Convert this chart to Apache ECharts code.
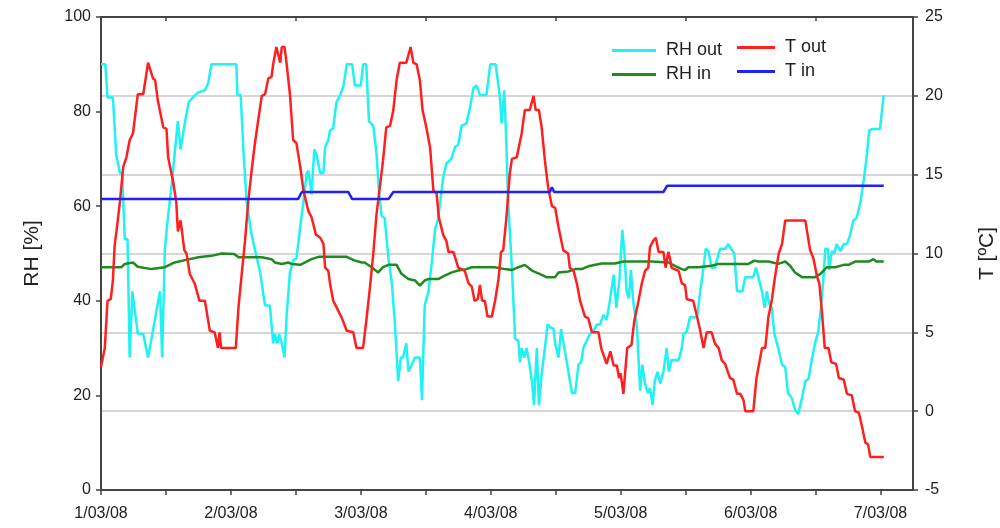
<!DOCTYPE html>
<html>
<head>
<meta charset="utf-8">
<script src="https://cdn.jsdelivr.net/npm/echarts@6/dist/echarts.min.js"></script>
<style>
  html, body { margin: 0; background: #fff; }
  #rh-t-chart { width: 1000px; height: 528px; }
</style>
</head>
<body>
<div id="rh-t-chart"></div>
<script>
// time in hours from 1/03/08 00:00
const dayLabels = ["1/03/08", "2/03/08", "3/03/08", "4/03/08", "5/03/08", "6/03/08", "7/03/08"];
const tickHours = [0, 12, 24, 36, 48, 60, 72, 84, 96, 108, 120, 132, 144];
const labelHours = [0, 24, 48, 72, 96, 120, 144];
const topTickHours = [12, 36, 60, 84, 108, 132];

const rhOut = [
  [0, 90], [0.8, 90], [1.2, 83], [2.2, 83], [2.8, 71], [3.5, 67], [3.9, 67], [4.4, 53], [4.9, 53],
  [5.3, 28], [5.8, 42], [6.8, 33], [7.8, 33], [8.7, 28], [10.9, 42], [11.3, 28], [11.8, 51],
  [12.4, 58], [13.0, 64], [13.6, 71], [14.2, 78], [14.7, 72], [15.4, 77], [16.2, 82], [17.0, 83],
  [17.9, 84], [19.2, 84.5], [19.8, 86], [20.4, 90],
  [25.0, 90], [25.2, 83.5], [25.8, 83.5], [26.3, 72], [26.9, 61], [27.8, 54], [28.4, 51], [29.4, 46],
  [30.3, 39], [31.2, 39], [31.8, 31], [32.1, 33], [32.6, 31], [32.9, 33], [33.4, 31], [33.9, 28],
  [34.3, 37], [34.9, 46], [35.5, 48.5], [36.1, 49], [36.8, 55.5], [37.4, 61], [38.0, 67], [38.3, 67.5],
  [38.9, 62.5], [39.4, 72], [39.8, 71], [40.5, 67], [41.1, 67], [41.4, 72.5], [42.0, 74], [42.3, 76],
  [42.9, 76.5], [43.5, 82], [44.2, 83.5], [44.8, 85.5], [45.4, 90], [46.4, 90], [46.9, 85.5], [48.0, 85.5],
  [48.4, 90], [49.0, 90], [49.5, 78], [50.3, 77], [50.9, 71], [51.3, 64], [51.8, 58], [52.4, 57.5],
  [53.1, 49], [53.7, 44], [54.3, 35], [54.9, 23], [55.4, 28], [55.8, 28], [56.4, 31], [56.8, 25],
  [57.4, 26.5], [58.0, 28], [58.9, 28], [59.3, 19], [59.8, 39], [60.5, 42], [61.1, 48], [61.7, 55],
  [62.3, 57.5], [63.2, 66], [63.8, 69], [64.7, 70], [65.4, 72.5], [66.0, 73], [66.6, 77], [67.5, 77.5],
  [68.2, 81], [68.8, 85], [69.4, 85.5], [70.0, 83.5], [71.2, 83.5], [71.9, 90],
  [72.9, 90], [73.7, 83], [74.0, 77.5], [74.5, 84.5], [74.9, 72.5], [75.2, 61], [75.9, 47], [76.5, 32],
  [77.1, 31.5], [77.4, 27], [77.7, 30], [78.2, 28], [78.6, 30], [79.1, 27], [79.6, 23], [80.0, 18],
  [80.5, 30], [80.9, 18], [81.4, 24.5], [82.0, 30], [82.5, 35], [82.9, 34.5], [83.6, 34], [83.9, 31],
  [84.5, 28], [85.0, 34], [85.6, 30], [86.2, 26], [87.0, 20.5], [87.6, 20.5], [88.2, 26.5], [88.7, 27],
  [89.1, 30], [89.7, 31.5], [90.3, 33], [90.9, 33.5], [91.6, 35], [92.2, 35], [92.8, 37], [93.4, 36],
  [94.0, 40], [94.7, 45.5], [95.2, 38.5], [95.8, 45],
  [96.3, 55], [96.7, 50], [97.1, 42], [97.5, 40.5], [97.9, 46.5], [98.3, 40], [99.0, 34.5], [99.6, 21],
  [100.0, 26.5], [100.5, 22.5], [101.0, 20.5], [101.4, 21.5], [101.9, 18], [102.3, 23], [102.8, 25],
  [103.3, 22.5], [103.9, 25], [104.5, 30], [104.9, 25], [105.4, 27.5], [106.7, 27.5], [107.3, 30],
  [107.6, 33], [108.2, 33.5], [108.8, 36.5], [110.1, 36.5], [110.7, 42], [111.3, 47], [111.7, 51],
  [112.2, 50.5], [112.8, 47], [113.4, 47], [114.1, 50], [114.4, 51], [115.3, 51], [115.9, 52], [116.4, 51],
  [117.0, 50], [117.5, 42], [118.5, 42], [119.0, 45], [120.5, 45],
  [121.0, 47], [122.1, 42], [122.6, 38.5], [123.0, 42], [123.4, 39.5], [123.9, 38.5], [124.4, 33],
  [125.1, 30], [125.8, 26.5], [126.4, 26], [126.9, 20.5], [127.6, 19.5], [128.2, 17], [128.8, 16],
  [129.5, 19.5], [130.1, 23], [130.7, 23.5], [131.3, 27.5], [131.9, 31], [132.5, 33.5], [133.0, 38.5],
  [133.5, 45.5], [133.8, 51], [134.3, 51], [134.5, 46.5], [135.0, 50.5], [135.5, 50], [135.9, 52],
  [136.6, 50.5], [137.2, 52], [137.8, 52], [138.4, 54], [139.0, 57], [139.6, 57.5], [140.3, 61],
  [140.9, 65.5], [141.5, 71], [141.9, 76], [142.4, 76.3], [143.9, 76.3], [144.2, 79.5], [144.6, 83.5]
];

const tOut = [
  [0, 2.8], [0.7, 4], [1.2, 7], [1.8, 7.1], [2.2, 8.3], [2.5, 10.4], [3.1, 12.1], [3.5, 13.3], [4.1, 15.5],
  [4.7, 16.1], [5.3, 17.2], [5.9, 17.6], [6.8, 20.1], [7.8, 20.1], [8.7, 22.1], [9.6, 21.1], [10.0, 21],
  [10.5, 19.7], [11.5, 18], [12.1, 17.9], [12.4, 16.1], [13.3, 14.6], [13.9, 13.3], [14.2, 11.4],
  [14.7, 12.1], [15.4, 10.2], [15.8, 10], [16.4, 8.7], [17.3, 8.1], [18.2, 7], [19.2, 7], [20.1, 5.1],
  [21.0, 5], [21.6, 4], [21.9, 5], [22.2, 4], [24.9, 4],
  [25.4, 6.6], [26.0, 8.7], [26.6, 10.8], [27.2, 13.3], [27.8, 15.2], [28.4, 16.9], [29.1, 18.6],
  [29.7, 20], [30.3, 20.1], [30.9, 21.1], [31.5, 21.2], [31.8, 22], [32.4, 23.1], [33.1, 22.1],
  [33.4, 23.1], [33.9, 23.1], [34.3, 22], [34.9, 20.1], [35.5, 17.2], [36.1, 17], [36.8, 15.5],
  [37.4, 14], [38.3, 12.7], [38.9, 12.3], [39.7, 11.2], [40.5, 11], [41.1, 10.6], [41.4, 9.1],
  [42.0, 8.9], [42.3, 8.1], [42.9, 7], [43.5, 6.6], [44.5, 5.9], [45.4, 5.1], [46.6, 5], [47.2, 4], [48.4, 4],
  [49.0, 5.7], [49.7, 7.9], [50.3, 10], [50.9, 12.5], [51.5, 14.2], [52.1, 15.9], [52.7, 18], [53.4, 18.1],
  [54.0, 19.1], [54.6, 21], [55.2, 22.1], [56.4, 22.1], [57.2, 23.1], [57.7, 22.1], [58.3, 22], [58.9, 21],
  [59.4, 19.1], [60.1, 18], [60.8, 16.7], [61.4, 14], [62.0, 13.8], [62.4, 12.3], [63.2, 11.2],
  [63.8, 10.8], [64.2, 10.1], [65.1, 10.1], [66.0, 9.1], [67.2, 8.9], [67.9, 8.1], [68.5, 7.9], [69.0, 7],
  [69.6, 7.1], [70.0, 8], [70.4, 7], [70.9, 7], [71.4, 6], [72.2, 6],
  [72.8, 7], [73.4, 8.3], [73.9, 10.1], [74.3, 10.2], [74.9, 12.3], [75.5, 15], [75.9, 16], [76.8, 16.1],
  [77.7, 17.6], [78.3, 19.1], [79.2, 19.1], [79.9, 20], [80.3, 19.1], [80.9, 19.1], [81.4, 18],
  [82.0, 15.9], [82.6, 14.2], [83.3, 13], [83.9, 12.9], [84.5, 11.7], [85.4, 10.2], [86.3, 10],
  [86.6, 9.1], [87.3, 8.9], [87.9, 8.1], [88.5, 7], [89.4, 6], [90.0, 5.9], [90.7, 5], [91.9, 5],
  [92.4, 4], [93.4, 3], [94.1, 3.8], [94.7, 2.9], [95.3, 2.9], [95.7, 2.1], [96.0, 2.4], [96.5, 1.1],
  [97.2, 4], [98.0, 4.2], [98.5, 5.7], [99.3, 7], [99.9, 8.1], [100.5, 8.9], [101.1, 9.1], [101.4, 10.4],
  [102.0, 10.8], [102.5, 11], [103.0, 10.1], [103.9, 10.1], [104.3, 9.1], [104.8, 10.1], [105.1, 9.7],
  [105.4, 9.1], [106.0, 9], [106.7, 8.9], [107.3, 8.1], [107.9, 8], [108.2, 7.1], [109.4, 7], [110.1, 6],
  [110.7, 5.1], [111.3, 4], [111.9, 5], [112.8, 5], [113.4, 4.3], [114.1, 4], [114.7, 3.2], [115.3, 3],
  [116.2, 2.1], [116.8, 2], [117.5, 1.1], [118.1, 1.1], [118.7, 0.7], [119.0, 0], [120.5, 0], [120.8, 1.1],
  [121.1, 2.1], [122.1, 4], [122.7, 4], [123.3, 6], [123.9, 7], [124.5, 8.5], [125.2, 10], [125.8, 10.6],
  [126.4, 12.1], [130.1, 12.1], [131.0, 10.2], [131.6, 9.7], [132.3, 8.5], [132.7, 8.1], [133.2, 6.2],
  [133.7, 4], [134.4, 4], [134.9, 3.1], [135.8, 3], [136.3, 2.1], [137.2, 2], [137.8, 1.1], [138.7, 1],
  [139.3, 0], [140.0, -0.1], [140.6, -1], [141.2, -2], [141.7, -2.1], [142.1, -2.9], [144.6, -2.9]
];

const rhIn = [
  [0, 47.1], [3.8, 47.1], [4.4, 47.8], [5.9, 48.1], [6.8, 47.2], [9.3, 46.7], [11.8, 47.1], [13.6, 48.1],
  [15.5, 48.6], [18.0, 49.2], [20.4, 49.5], [22.3, 50], [24.6, 49.9],
  [25.4, 49.2], [29.7, 49.2], [31.5, 48.8], [32.1, 48.1], [33.4, 47.8], [34.6, 48.1], [35.2, 47.8],
  [36.8, 47.6], [38.9, 48.8], [40.2, 49.3], [45.4, 49.3], [46.9, 48.5], [48.2, 48.1],
  [48.7, 48.1], [50.0, 47.1], [51.2, 46.0], [52.1, 47.1], [53.1, 47.6], [54.6, 47.6], [55.5, 45.7],
  [56.8, 44.6], [58.0, 44.3], [58.9, 43.2], [59.8, 44.3], [60.5, 44.6], [62.3, 44.6], [63.5, 45.3],
  [64.8, 46.0], [66.0, 46.4], [67.5, 46.7], [68.5, 47.1], [72.7, 47.1],
  [74.6, 46.7], [75.9, 46.5], [77.1, 47.1], [78.3, 47.6], [79.6, 46.4], [80.8, 45.8], [82.3, 45.0],
  [83.9, 45.0], [84.5, 46.0], [86.3, 46.2], [87.6, 46.7], [88.8, 46.7], [90.0, 47.3], [92.5, 47.9],
  [94.9, 47.9], [96.5, 48.3], [101.7, 48.3], [104.8, 48.1], [106.0, 47.4], [107.3, 46.7], [107.9, 46.5],
  [108.5, 47.1], [110.4, 47.1], [112.8, 47.4], [114.1, 47.8], [119.6, 47.8], [120.7, 48.5],
  [121.4, 48.3], [123.3, 48.3], [125.1, 47.8], [126.4, 48.3], [127.3, 47.4], [128.2, 46.0], [129.5, 45.0],
  [131.9, 45.0], [132.9, 45.7], [134.1, 47.1], [135.6, 47.1], [137.2, 47.6], [138.1, 47.6], [139.3, 48.3],
  [141.8, 48.3], [142.7, 48.8], [143.2, 48.3], [144.6, 48.3]
];

const tIn = [
  [0, 13.45], [36.4, 13.45], [37.1, 13.9], [45.7, 13.9], [46.4, 13.45], [53.1, 13.45], [54.0, 13.9],
  [82.9, 13.9], [83.3, 14.2], [83.7, 13.9], [103.9, 13.9], [104.6, 14.3], [144.6, 14.3]
];

const font = "Liberation Sans, Arial, sans-serif";
const axisColor = "#444";

let dom = document.getElementById("rh-t-chart");
let myChart = echarts.init(dom);

function lineSeries(name, data, color, yIndex) {
  return {
    name: name,
    type: "line",
    data: data,
    yAxisIndex: yIndex,
    xAxisIndex: 0,
    showSymbol: false,
    symbol: "none",
    color: color,
    lineStyle: { color: color, width: 2.5 }
  };
}

let option = {
  animation: false,
  backgroundColor: "#fff",
  grid: { left: 101, right: 87, top: 17, bottom: 38, containLabel: false, outerBoundsMode: "none" },
  legend: [
    {
      data: ["RH out", "RH in"],
      orient: "vertical",
      left: 607,
      top: 35,
      icon: "rect",
      itemWidth: 44,
      itemHeight: 3,
      itemGap: 3,
      textStyle: { fontFamily: font, fontSize: 18, color: "#222", lineHeight: 21, padding: [0, 0, 0, 5] }
    },
    {
      data: ["T out", "T in"],
      orient: "vertical",
      left: 732,
      top: 32,
      icon: "rect",
      itemWidth: 38,
      itemHeight: 3,
      itemGap: 3,
      textStyle: { fontFamily: font, fontSize: 18, color: "#222", lineHeight: 21, padding: [0, 0, 0, 5] }
    }
  ],
  xAxis: [
    {
      type: "value",
      position: "bottom",
      min: 0,
      max: 150,
      axisLine: { onZero: false, lineStyle: { color: axisColor, width: 2 } },
      axisTick: { customValues: tickHours, length: 5, lineStyle: { color: axisColor, width: 1.5 } },
      axisLabel: {
        customValues: labelHours,
        formatter: function (v) { return dayLabels[Math.round(v / 24)]; },
        fontFamily: font,
        fontSize: 16,
        color: "#222",
        margin: 16
      },
      splitLine: { show: false }
    },
    {
      type: "value",
      position: "top",
      min: 0,
      max: 150,
      axisLine: { onZero: false, lineStyle: { color: axisColor, width: 2 } },
      axisTick: { customValues: topTickHours, inside: true, length: 4, lineStyle: { color: axisColor, width: 1.5 } },
      axisLabel: { show: false },
      splitLine: { show: false }
    }
  ],
  yAxis: [
    {
      type: "value",
      position: "left",
      min: 0,
      max: 100,
      interval: 20,
      name: "RH [%]",
      nameLocation: "middle",
      nameRotate: 90,
      nameGap: 58,
      nameTextStyle: { fontFamily: font, fontSize: 21, color: "#222" },
      axisLine: { show: true, onZero: false, lineStyle: { color: axisColor, width: 2 } },
      axisTick: { show: true, length: 5, lineStyle: { color: axisColor, width: 1.5 } },
      axisLabel: { fontFamily: font, fontSize: 16, color: "#222", margin: 10 },
      splitLine: { show: false }
    },
    {
      type: "value",
      position: "right",
      min: -5,
      max: 25,
      interval: 5,
      name: "T [ºC]",
      nameLocation: "middle",
      nameRotate: 90,
      nameGap: 64,
      nameTextStyle: { fontFamily: font, fontSize: 21, color: "#222" },
      axisLine: { show: true, onZero: false, lineStyle: { color: axisColor, width: 2 } },
      axisTick: { show: true, length: 5, lineStyle: { color: axisColor, width: 1.5 } },
      axisLabel: { fontFamily: font, fontSize: 16, color: "#222", margin: 12 },
      splitLine: { show: true, lineStyle: { color: "#c8c8c8", width: 1.5 } }
    }
  ],
  series: [
    lineSeries("RH out", rhOut, "#1ef2f2", 0),
    lineSeries("RH in", rhIn, "#1f8a1f", 0),
    lineSeries("T out", tOut, "#ff1f1f", 1),
    lineSeries("T in", tIn, "#1f1fff", 1)
  ]
};
myChart.setOption(option, true);
</script>
</body>
</html>
